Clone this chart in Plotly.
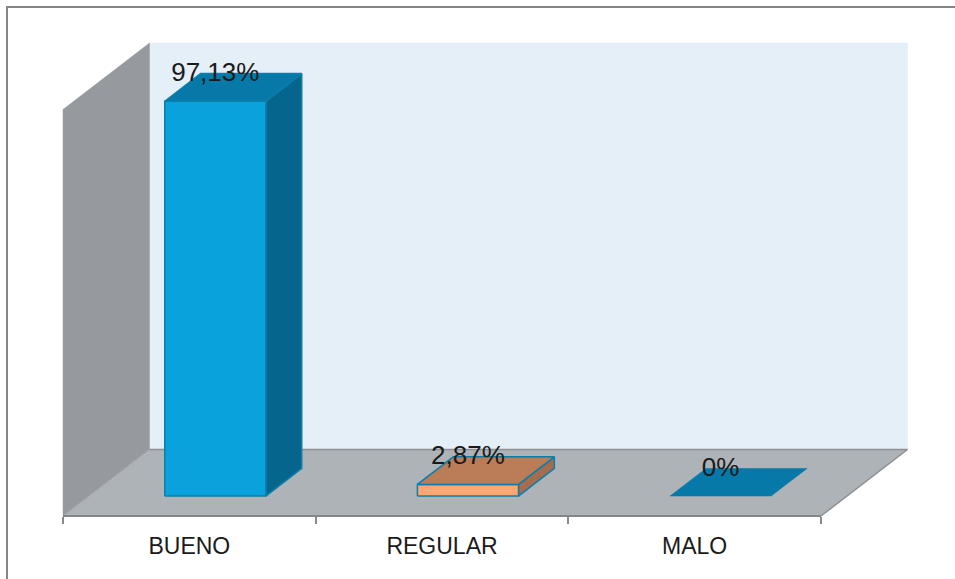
import plotly.graph_objects as go

# Survey results
categories = ["BUENO", "REGULAR", "MALO"]
percentages = [97.13, 2.87, 0]
value_labels = ["97,13%", "2,87%", "0%"]

# Face colours for each column: front, top, side, outline
front_colors = ["#09A2DC", "#FFA673", "#0679A8"]
top_colors = ["#0679A8", "#BB7C58", "#0679A8"]
side_colors = ["#05658C", "#A56C4E", "#0679A8"]
outline_colors = ["#0A7FAB", "#0A7FAB", "#0679A8"]

W, H = 955, 579
PLOT_LEFT, PLOT_RIGHT = 63, 821   # front edge of the floor, in page pixels
FLOOR_Y, WALL_TOP_Y = 516, 109.5  # y = 0 and y = 100 on the front plane
N = len(categories)
UNIT_X = (PLOT_RIGHT - PLOT_LEFT) / N
UNIT_Y = (FLOOR_Y - WALL_TOP_Y) / 100

# Oblique projection: depth 0 is the front plane, depth 1 the back wall
DEPTH_X = 86.5 / UNIT_X
DEPTH_Y = 66.5 / UNIT_Y
BAR_NEAR, BAR_FAR = 0.30, 0.715
LABEL_DEPTH = 0.70
BAR_HALF = 0.2


def project(x, y, d):
    return x + d * DEPTH_X, y + d * DEPTH_Y


def face(points, fill, line=None, width=0):
    xs, ys = zip(*[project(*p) for p in points + points[:1]])
    return go.Scatter(
        x=xs, y=ys, mode="lines", fill="toself", fillcolor=fill,
        line=dict(color=line or fill, width=width or 0.5),
        hoverinfo="skip", showlegend=False,
    )


def edge(points, color, width):
    xs, ys = zip(*[project(*p) for p in points])
    return go.Scatter(
        x=xs, y=ys, mode="lines", line=dict(color=color, width=width),
        hoverinfo="skip", showlegend=False,
    )


fig = go.Figure()

# Back wall, side wall and floor
fig.add_trace(face([(0, 0, 1), (N, 0, 1), (N, 100, 1), (0, 100, 1)], "#E5EFF8"))
fig.add_trace(face([(0, 0, 0), (0, 0, 1), (0, 100, 1), (0, 100, 0)], "#96999E"))
fig.add_trace(face([(0, 0, 0), (N, 0, 0), (N, 0, 1), (0, 0, 1)], "#AEB3B8"))
fig.add_trace(edge([(0, 0, 0), (0, 0, 1)], "#A3A5A8", 1))
fig.add_trace(edge([(0, 0, 1), (N, 0, 1), (N, 0, 0)], "#8E9092", 1.5))
fig.add_trace(edge([(0, 0, 0), (N, 0, 0)], "#868686", 2))

# Columns
for i, value in enumerate(percentages):
    x0, x1 = i + 0.5 - BAR_HALF, i + 0.5 + BAR_HALF
    lw = 1.5 if value > 0 else 0
    top = [(x0, value, BAR_NEAR), (x1, value, BAR_NEAR), (x1, value, BAR_FAR), (x0, value, BAR_FAR)]
    if value > 0:
        side = [(x1, 0, BAR_NEAR), (x1, 0, BAR_FAR), (x1, value, BAR_FAR), (x1, value, BAR_NEAR)]
        front = [(x0, 0, BAR_NEAR), (x1, 0, BAR_NEAR), (x1, value, BAR_NEAR), (x0, value, BAR_NEAR)]
        fig.add_trace(face(side, side_colors[i], outline_colors[i], lw))
        fig.add_trace(face(front, front_colors[i], outline_colors[i], lw))
    fig.add_trace(face(top, top_colors[i], outline_colors[i], lw))

# Value labels sit above each column's front face
label_x = [project(i + 0.5, 0, BAR_NEAR)[0] for i in range(N)]
label_y = [project(0, v, LABEL_DEPTH)[1] for v in percentages]
fig.add_trace(go.Scatter(
    x=label_x, y=label_y, mode="text", text=value_labels,
    textposition="middle center", cliponaxis=False,
    textfont=dict(family="Liberation Sans", size=26, color="#1A1A1A"),
    hoverinfo="skip", showlegend=False,
))

fig.update_layout(
    width=W, height=H,
    margin=dict(l=0, r=0, t=0, b=0),
    paper_bgcolor="white", plot_bgcolor="white",
    showlegend=False,
    xaxis=dict(
        range=[-PLOT_LEFT / UNIT_X, (W - PLOT_LEFT) / UNIT_X],
        showgrid=False, zeroline=False, showline=False,
        anchor="free", position=(H - FLOOR_Y) / H,
        tickmode="array",
        tickvals=[i + 0.5 for i in range(N)], ticktext=categories,
        ticks="outside", ticklen=9, tickcolor="rgba(0,0,0,0)",
        tickfont=dict(family="Liberation Sans", size=23, color="#1A1A1A"),
        minor=dict(
            tickmode="array", tickvals=list(range(N + 1)),
            ticks="outside", ticklen=7, tickwidth=1.5, tickcolor="#8A8A8A",
            showgrid=False,
        ),
    ),
    yaxis=dict(
        range=[-(H - FLOOR_Y) / UNIT_Y, FLOOR_Y / UNIT_Y],
        visible=False,
    ),
    shapes=[dict(
        type="rect", xref="paper", yref="paper",
        x0=7 / W, x1=1.2, y0=-0.2, y1=1 - 7 / H,
        line=dict(color="#868686", width=2), fillcolor="rgba(0,0,0,0)", layer="below",
    )],
)

fig.write_html("out.html")
